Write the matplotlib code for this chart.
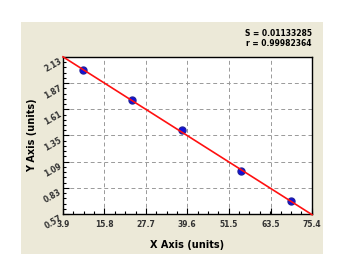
import numpy as np
import matplotlib.pyplot as plt
from matplotlib.ticker import AutoMinorLocator, FixedLocator

# standard curve points
conc = [9.65, 23.6, 38.0, 55.1, 69.3]
od = [2.00, 1.70, 1.40, 0.995, 0.70]

xticks = [3.9, 15.8, 27.7, 39.6, 51.5, 63.5, 75.4]
yticks = [0.57, 0.83, 1.09, 1.35, 1.61, 1.87, 2.13]

s_txt = "S = 0.01133285"
r_txt = "r = 0.99982364"

bg = "#ECE9D8"

fig = plt.figure(figsize=(3.46, 2.54), dpi=100)
fig.patch.set_facecolor("white")
# beige panel like the old windows control
fig.patches.append(plt.Rectangle((21/346, 0), (323-21)/346, (254-22)/254,
                                 transform=fig.transFigure, facecolor=bg,
                                 edgecolor="none", zorder=-10))

ax = fig.add_axes([63/346, 1-214/254, (312-63)/346, (214-57)/254])
ax.set_facecolor("white")

# linear fit
k, b = np.polyfit(conc, od, 1)
xl = np.array([xticks[0], xticks[-1]])
ax.plot(conc, od, "o", color="#1010e0", mec="#2020a0", ms=5, zorder=3)
ax.plot(xl, k*xl + b, color="#ff1010", lw=1.2, zorder=4, clip_on=False)

ax.set_xlim(xticks[0], xticks[-1])
ax.set_ylim(yticks[0], yticks[-1])
ax.xaxis.set_major_locator(FixedLocator(xticks))
ax.yaxis.set_major_locator(FixedLocator(yticks))
ax.set_xticklabels([f"{v:.1f}" for v in xticks])
ax.set_yticklabels([f"{v:.2f}" for v in yticks], rotation=30,
                   rotation_mode="anchor", ha="right", va="top")
ax.xaxis.set_minor_locator(AutoMinorLocator(4))
ax.yaxis.set_minor_locator(AutoMinorLocator(5))
ax.tick_params(which="both", direction="in", labelsize=5.5, width=0.8, colors="black")
ax.tick_params(which="major", length=4)
ax.tick_params(which="minor", length=2.5)
for lab in ax.get_xticklabels() + ax.get_yticklabels():
    lab.set_fontweight("bold")
    lab.set_color("#333333")
ax.tick_params(axis="x", pad=4)
ax.tick_params(axis="y", pad=3)

ax.grid(True, which="major", ls=(0, (4, 3)), color="#999999", lw=0.7)
for sp in ax.spines.values():
    sp.set_linewidth(1.0)

ax.set_xlabel("X Axis (units)", fontsize=7, fontweight="bold", labelpad=8)
ax.set_ylabel("Y Axis (units)", fontsize=7, fontweight="bold", labelpad=4)

fig.text(312/346, 1-34/254, s_txt, ha="right", va="center", fontsize=5.5, fontweight="bold")
fig.text(312/346, 1-44/254, r_txt, ha="right", va="center", fontsize=5.5, fontweight="bold")

fig.savefig("out.png", dpi=100)
